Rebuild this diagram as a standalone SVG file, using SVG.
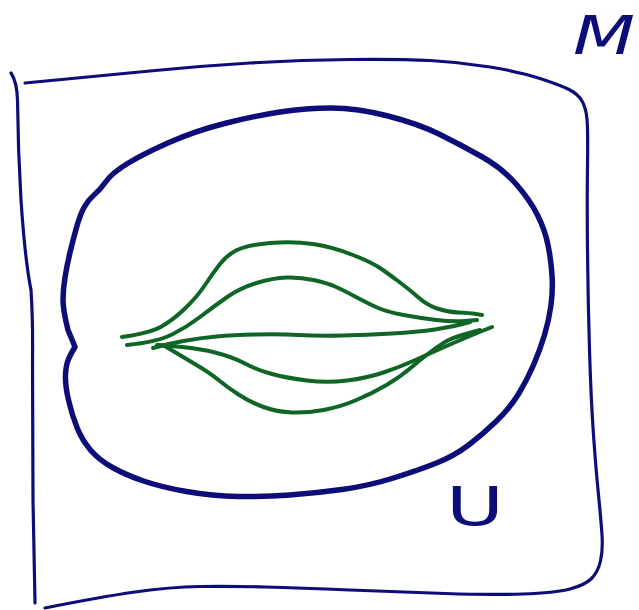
<svg xmlns="http://www.w3.org/2000/svg" width="639" height="610" viewBox="0 0 639 610">
<style>
.frame{fill:none;stroke:#0d0d7a;stroke-width:3.2;stroke-linecap:round;stroke-linejoin:round}
.oval{fill:none;stroke:#0d0d7a;stroke-width:5.5;stroke-linecap:round;stroke-linejoin:round}
.curve{fill:none;stroke:#0f6526;stroke-width:4;stroke-linecap:round;stroke-linejoin:round}
.lbl{fill:#0d0d7a;font-family:"DejaVu Sans",sans-serif;font-size:54px}
</style>
<rect width="639" height="610" fill="#ffffff"/>
<g id="M-set">
<path class="frame" d="M11,73 Q17,82 17.5,100 Q18,150 21,200 Q25,260 31,290 Q33,320 32.5,360 L33,500 L35,603"/>
<path class="frame" d="M25,83 Q100,76 150,71 Q200,66 250,63 Q300,60 350,59.5 Q400,59 430,60.5 Q460,62 490,67 Q520,72 540,78.5 Q560,85 569,89.5 Q578,94 582,101 Q586,108 587,119 Q588,130 587.5,165 Q587,200 587.5,250 Q588,300 589.5,350 Q591,400 593.5,435 Q596,470 598.5,495 Q601,520 602,535 Q603,550 600.5,561 Q598,572 591.5,578.5 Q585,585 570,589 Q555,593 522.5,594 Q490,595 445,593.5 Q400,592 350,590 Q300,588 265,587 Q230,586 200,586.5 Q170,587 135,592 Q100,597 45,608"/>
<text class="lbl" x="573" y="54" font-style="italic" textLength="62" lengthAdjust="spacingAndGlyphs">M</text>
</g>
<g id="U-set">
<path class="oval" d="M94,195 Q100,190 106,181.5 Q112,173 127.5,163.5 Q143,154 169,142.5 Q195,131 224.5,123.5 Q254,116 280,112 Q306,108 331.5,108 Q357,108 388,116 Q419,124 440,134.5 Q461,145 481.5,156.5 Q502,168 516,184 Q530,200 537.5,215 Q545,230 548,245 Q551,260 552,275 Q553,290 551,305 Q549,320 544.5,335 Q540,350 533.5,365 Q527,380 518.5,394 Q510,408 496,421.5 Q482,435 468,445.5 Q454,456 436.5,463 Q419,470 393.5,478 Q368,486 342,489.5 Q316,493 290,495 Q264,497 238,496.5 Q212,496 186.5,491.5 Q161,487 143.5,481 Q126,475 112.5,467.5 Q99,460 90.5,450 Q82,440 77,427.5 Q72,415 68.5,400 Q65,385 65.5,374.5 Q66,364 69,358 L72,352 L75,347 L73,342 L68,330 Q63,310 63,300 Q63,290 65,277.5 Q67,265 70,252.5 Q73,240 76.5,227.5 Q80,215 84,207.5 Q88,200 94,195 Z"/>
<text class="lbl" x="446" y="525" textLength="58" lengthAdjust="spacingAndGlyphs">U</text>
</g>
<g id="curves">
<path class="curve" d="M122,337 Q150,333 161.5,326.5 Q173,320 185,308.5 Q197,297 205,285 Q213,273 220,264 Q227,255 237,250 Q247,245 270,243 Q293,241 313,244 Q333,247 353,255 Q373,263 381.5,269 Q390,275 400,282.5 Q410,290 418.5,297.5 Q427,305 437,308.5 Q447,312 458.5,312.5 Q470,313 476,314 L482,315"/>
<path class="curve" d="M127,345 Q157,342 172,334.5 Q187,327 200,317 Q213,307 226.5,297.5 Q240,288 256.5,283 Q273,278 286.5,277.5 Q300,277 313.5,280 Q327,283 335,286.5 Q343,290 355,296.5 Q367,303 377,307.5 Q387,312 403.5,315 Q420,318 436.5,320 Q453,322 465,321 L477,320"/>
<path class="curve" d="M153,348 Q167,344 183.5,341 Q200,338 216.5,336.5 Q233,335 256.5,334.5 Q280,334 298.5,335 Q317,336 342,335.5 Q367,335 392,333.5 Q417,332 435,329.5 Q453,327 470,322"/>
<path class="curve" d="M157,345 Q193,347 213,352 Q233,357 245,363.5 Q257,370 272,374 Q287,378 307,380.5 Q327,383 347,380.5 Q367,378 383.5,372.5 Q400,367 416.5,359.5 Q433,352 450,344.5 Q467,337 492,327"/>
<path class="curve" d="M163,345 Q183,357 196.5,365 Q210,373 218.5,380 Q227,387 238.5,394.5 Q250,402 263.5,407 Q277,412 292,412.5 Q307,413 323.5,410 Q340,407 356.5,400 Q373,393 386.5,385 Q400,377 410,368.5 Q420,360 428.5,353.5 Q437,347 445,342 Q453,337 480,330"/>
</g>
</svg>
